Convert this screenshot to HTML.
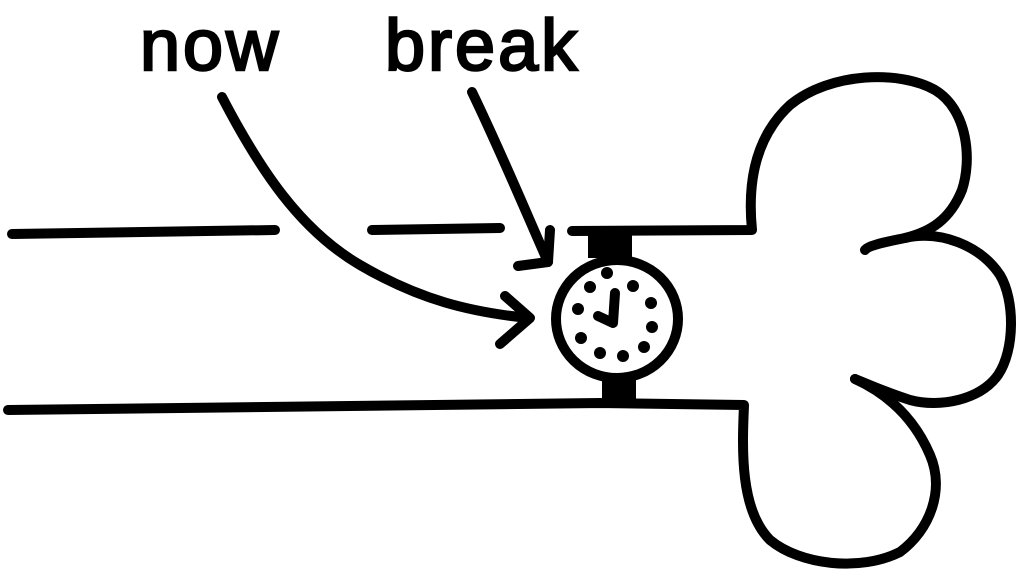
<!DOCTYPE html>
<html><head><style>
html,body{margin:0;padding:0;background:#fff;}
svg{display:block;}
text{font-family:"Liberation Sans",sans-serif;font-weight:normal;font-size:72px;fill:#000;stroke:#000;stroke-width:2.5px;}
</style></head><body>
<svg width="1024" height="582" viewBox="0 0 1024 582">
<g fill="none" stroke="#000" stroke-width="10" stroke-linecap="round" stroke-linejoin="round">
<path d="M12 234 L275 230"/>
<path d="M372 230 L500 228"/>
<path d="M572 231 L752 230 C748 190 752 140 790 105 C830 72 900 70 935 90 C968 110 972 160 962 190 C950 220 930 232 905 238 C880 243 868 246 865 250"/>
<path d="M905 238 C940 230 980 245 1000 275 C1015 300 1015 350 998 375 C980 400 940 408 910 400 C885 392 870 385 855 379"/>
<path d="M855 379 C890 395 915 420 930 455 C945 490 930 530 900 552 C860 572 800 565 770 540 C740 510 742 450 744 405 L600 403 L8 410"/>
<path d="M222 97 C260 170 300 230 360 265 C420 300 470 312 528 318"/>
<path d="M505 296 L530 318 L500 344"/>
<path d="M472 92 C500 150 525 210 548 262"/>
<path d="M550 230 L548 262 L518 266"/>
<ellipse cx="617" cy="319" rx="61" ry="59"/>
<path d="M615 293 L613 323 L598 316"/>
</g>
<rect x="588" y="228" width="44" height="30" fill="#000"/>
<rect x="602" y="378" width="34" height="24" fill="#000"/>
<g fill="#000">
<circle cx="607" cy="273" r="6"/><circle cx="633" cy="286" r="6"/><circle cx="651" cy="303" r="6"/>
<circle cx="652" cy="327" r="6"/><circle cx="644" cy="347" r="6"/><circle cx="623" cy="356" r="6"/>
<circle cx="600" cy="353" r="6"/><circle cx="581" cy="338" r="6"/><circle cx="578" cy="309" r="6"/>
<circle cx="590" cy="287" r="6"/>
</g>
<text x="140" y="70" letter-spacing="3">now</text>
<text x="385" y="70" letter-spacing="3">break</text>
</svg>
</body></html>
